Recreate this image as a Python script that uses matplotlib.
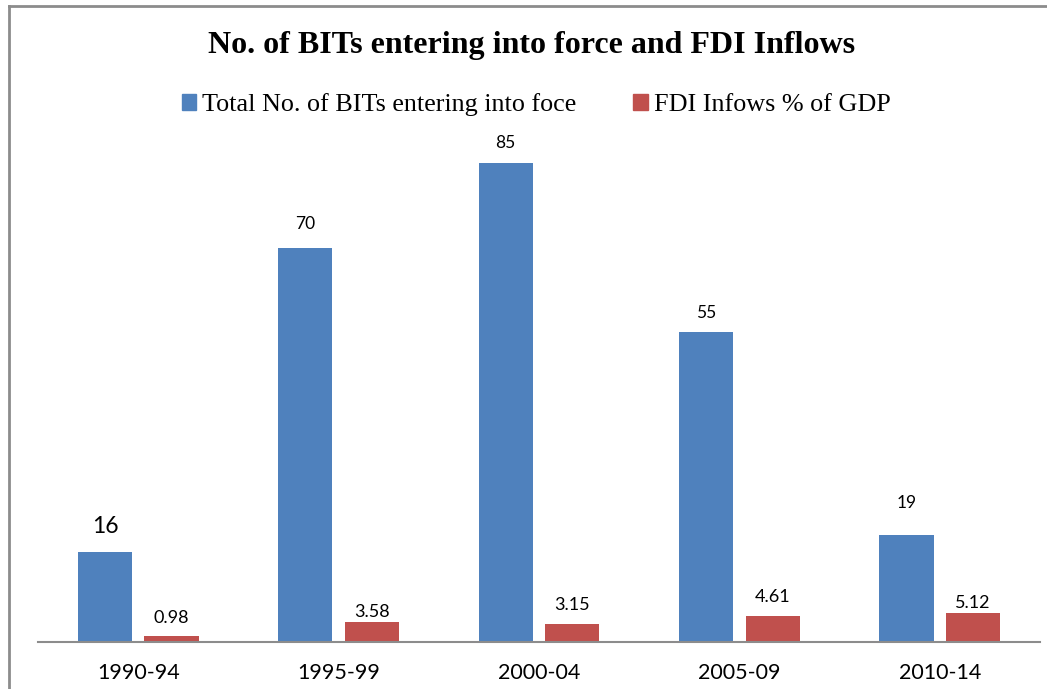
import matplotlib
matplotlib.use("Agg")
import matplotlib.pyplot as plt
from matplotlib.lines import Line2D
import numpy as np

categories = ["1990-94", "1995-99", "2000-04", "2005-09", "2010-14"]
bits = [16, 70, 85, 55, 19]
fdi = [0.98, 3.58, 3.15, 4.61, 5.12]
bits_labels = ["16", "70", "85", "55", "19"]
fdi_labels = ["0.98", "3.58", "3.15", "4.61", "5.12"]
series_names = ["Total No. of BITs entering into foce", "FDI Infows % of GDP"]
title = "No. of BITs entering into force and FDI Inflows"

# label offsets above bar tops (pixels) - style only
bits_label_dy = [25, 24, 20, 19, 32]
fdi_label_dy = [18, 10, 19, 19, 10]

blue = "#4F81BD"
red = "#C0504D"

W, H = 1047, 689
fig = plt.figure(figsize=(W / 100, H / 100), dpi=100)
ax = fig.add_axes([38 / W, (H - 642) / H, (1040 - 38) / W, (642 - 135) / H])

x = np.arange(len(categories))
bw = 0.27
off = 0.166
ax.bar(x - off, bits, bw, color=blue, zorder=2)
ax.bar(x + off, fdi, bw, color=red, zorder=2)

ax.set_xlim(-0.5, len(categories) - 0.5)
ax.set_ylim(0, 90)

sans = ["Lato", "DejaVu Sans"]
for i, (v, lab) in enumerate(zip(bits, bits_labels)):
    fs = 16.5 if i == 0 else 12.5
    ax.annotate(lab, (x[i] - off, v), xytext=(0, bits_label_dy[i] * 0.72), textcoords="offset points",
                ha="center", va="center", fontsize=fs, family=sans)
for i, (v, lab) in enumerate(zip(fdi, fdi_labels)):
    ax.annotate(lab, (x[i] + off, v), xytext=(0, fdi_label_dy[i] * 0.72), textcoords="offset points",
                ha="center", va="center", fontsize=13, family=sans)

ax.set_xticks(x)
ax.set_xticklabels(categories, fontsize=15.5, family=sans)
ax.tick_params(axis="x", length=0, pad=15)
ax.set_yticks([])
for s in ["top", "right", "left"]:
    ax.spines[s].set_visible(False)
ax.spines["bottom"].set_color("#8c8c8c")
ax.spines["bottom"].set_linewidth(1.5)
ax.spines["bottom"].set_zorder(3)

serif = ["Liberation Serif", "DejaVu Serif"]
fig.text(532 / W, 1 - 46 / H, title, ha="center", va="center", fontsize=23,
         fontweight="bold", family=serif)

handles = [plt.Rectangle((0, 0), 1, 1, color=blue), plt.Rectangle((0, 0), 1, 1, color=red)]
fig.legend(handles, series_names, loc="center", bbox_to_anchor=(536 / W, 1 - 105 / H),
           ncol=2, frameon=False, prop={"family": serif, "size": 18.8},
           handlelength=0.54, handleheight=0.54, handletextpad=0.23, columnspacing=2.2,
           borderpad=0, borderaxespad=0)

# outer frame (left and top)
fig.add_artist(Line2D([9 / W, 9 / W], [0, 1 - 6 / H], transform=fig.transFigure,
                      color="#8c8c8c", lw=2))
fig.add_artist(Line2D([9 / W, 1], [1 - 6 / H, 1 - 6 / H], transform=fig.transFigure,
                      color="#8c8c8c", lw=2))

fig.savefig("out.png", dpi=100)
